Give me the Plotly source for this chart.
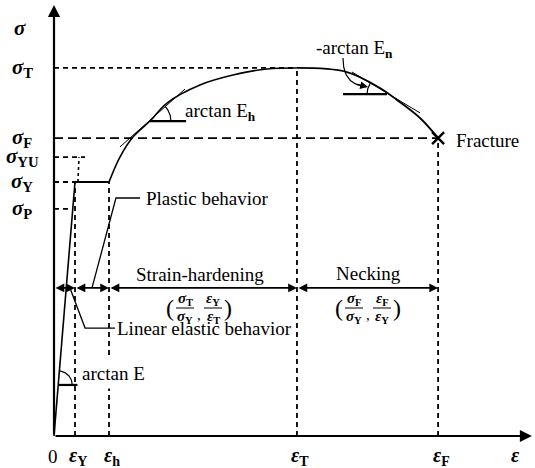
import math
import numpy as np
import plotly.graph_objects as go

# ---------------- data (stress / sigma_Y , strain / eps_Y) ----------------
strain_names = ["Y", "h", "T", "F"]
strain_values = [1.00, 2.62, 11.57, 18.29]
strain_guide_top = [1.000, 1.000, 1.449, 1.173]

stress_names = ["P", "Y", "YU", "F", "T"]
stress_values = [0.894, 1.000, 1.098, 1.173, 1.449]
stress_guide_end = [0.67, 1.00, 1.48, 18.29, 11.57]

elastic_eps = [0.0, 1.00]
elastic_sig = [0.0, 1.000]
upper_yield_eps = [1.14, 1.19]
upper_yield_sig = [1.000, 1.098]
plateau_eps = [1.00, 2.62]
plateau_sig = [1.000, 1.000]
hardening_eps = [2.62, 3.14, 3.76, 4.57, 5.38, 6.95, 8.52, 10.14, 11.57]
hardening_sig = [1.000, 1.098, 1.177, 1.240, 1.311, 1.382, 1.421, 1.445, 1.449]
necking_eps = [11.57, 13.95, 15.52, 16.33, 17.43, 18.29]
necking_sig = [1.449, 1.433, 1.370, 1.323, 1.252, 1.173]

tangent_h_eps = [3.14, 6.24]
tangent_h_sig = [1.138, 1.366]
tangent_h_point = [4.57, 1.240]
tangent_h_ref_end = 6.29
tangent_n_eps = [14.19, 17.43]
tangent_n_sig = [1.433, 1.272]
tangent_n_point = [15.86, 1.346]
tangent_n_ref_start = 13.76
elastic_ref_sig = 0.201
elastic_ref_end = 1.62

region_level = 0.583
region_bounds = [0.0, 1.00, 2.62, 11.57, 18.29]
linear_leader_eps = [0.76, 1.48, 2.90]
linear_leader_sig = [0.583, 0.425, 0.425]
plastic_leader_eps = [1.81, 2.95, 4.10]
plastic_leader_sig = [0.583, 0.937, 0.937]

axis_tip_eps = 22.76
axis_tip_sig = 1.697

# ---------------- layout constants ----------------
W, H = 535, 468
X0, KX = 54, 21.0     # pixel of origin, px per strain unit
Y0, KY = 436, 254.0   # pixel of origin, px per stress unit
FONT = "Liberation Serif, Times New Roman, serif"
TS = 19  # plain text size


def D(px, py):
    return (px - X0) / KX, (Y0 - py) / KY


fig = go.Figure()


def line(xs, ys, width=1.6, dash=None, shape="linear"):
    fig.add_trace(go.Scatter(x=list(xs), y=list(ys), mode="lines",
                             line=dict(color="black", width=width, dash=dash, shape=shape),
                             hoverinfo="skip", showlegend=False))


def text(x, y, s, size=TS, xanchor="center", yanchor="middle", bg=None, pad=0, xshift=0, yshift=0):
    fig.add_annotation(x=x, y=y, xref="x", yref="y", text=s, showarrow=False,
                       font=dict(family=FONT, size=size, color="black"),
                       xanchor=xanchor, yanchor=yanchor, xshift=xshift, yshift=yshift,
                       bgcolor=bg, borderpad=pad)


def arc(cx, cy, r, a0, a1, width=1.2):
    t = np.radians(np.linspace(a0, a1, 30))
    line(cx + r * np.cos(t) / KX, cy + r * np.sin(t) / KY, width=width)


def ang(p, q):
    return math.degrees(math.atan2((q[1] - p[1]) * KY, (q[0] - p[0]) * KX))


# dashed guides
for name, s, e in zip(stress_names, stress_values, stress_guide_end):
    line([0, e], [s, s], width=1.8, dash="9px,5px" if name == "F" else "5px,4px")
for v, top in zip(strain_values, strain_guide_top):
    line([v, v], [0, top], width=1.8, dash="5px,4px")

# curve
line(elastic_eps, elastic_sig, width=1.6)
line(upper_yield_eps, upper_yield_sig, width=1.6, dash="dot")
line(plateau_eps, plateau_sig, width=2.2)
line(hardening_eps, hardening_sig, width=1.6, shape="spline")
line(necking_eps, necking_sig, width=1.8, shape="spline")

# tangents and angle arcs
line(tangent_h_eps, tangent_h_sig, width=1.0)
line([tangent_h_point[0], tangent_h_ref_end], [tangent_h_point[1]] * 2, width=2.2)
arc(tangent_h_point[0], tangent_h_point[1], 21, 0,
    ang(tangent_h_point, [tangent_h_eps[1], tangent_h_sig[1]]))
line(tangent_n_eps, tangent_n_sig, width=1.0)
line([tangent_n_ref_start, tangent_n_point[0]], [tangent_n_point[1]] * 2, width=2.2)
arc(tangent_n_point[0], tangent_n_point[1], 20,
    ang(tangent_n_point, [tangent_n_eps[0], tangent_n_sig[0]]), 180)
e_start = elastic_ref_sig * elastic_eps[1] / elastic_sig[1]
line([e_start, elastic_ref_end], [elastic_ref_sig] * 2, width=2.2)
arc(e_start, elastic_ref_sig, 14, 0, ang([0, 0], [elastic_eps[1], elastic_sig[1]]))

# leaders
line(linear_leader_eps, linear_leader_sig, width=1.3)
line(plastic_leader_eps, plastic_leader_sig, width=1.3)

# curved arrow for -arctan En
t = np.linspace(0, 1, 30)
p0, p1, p2 = np.array([343, 58.0]), np.array([343, 84.0]), np.array([364, 86.0])
bez = ((1 - t)[:, None] ** 2) * p0 + (2 * (1 - t) * t)[:, None] * p1 + (t[:, None] ** 2) * p2
line((bez[:, 0] - X0) / KX, (Y0 - bez[:, 1]) / KY, width=1.2)
hx, hy = D(368, 87)
fig.add_annotation(x=hx, y=hy, xref="x", yref="y", ax=-13, ay=-3, text="", showarrow=True,
                   arrowhead=2, arrowsize=1.2, arrowwidth=1.3, arrowcolor="black")

# fracture mark
fig.add_trace(go.Scatter(x=[strain_values[3]], y=[stress_values[3]], mode="markers",
                         marker=dict(symbol="x-thin", size=12, line=dict(width=2.5, color="black")),
                         hoverinfo="skip", showlegend=False))

# axes
for tx, ty in [(0, axis_tip_sig), (axis_tip_eps, 0)]:
    fig.add_annotation(x=tx, y=ty, ax=0, ay=0, xref="x", yref="y", axref="x", ayref="y",
                       text="", showarrow=True, arrowhead=2, arrowsize=1.1, arrowwidth=2.2,
                       arrowcolor="black", standoff=0, startstandoff=0)

# region double arrows
for a, b in zip(region_bounds[:-1], region_bounds[1:]):
    fig.add_annotation(x=b, y=region_level, ax=a, ay=region_level, xref="x", yref="y",
                       axref="x", ayref="y", text="", showarrow=True, arrowhead=2,
                       arrowside="end+start", arrowsize=1.1, arrowwidth=1.6, arrowcolor="black",
                       standoff=0, startstandoff=0)

# labels
BI = lambda g, sub: f"<b><i>{g}</i></b><sub><b>{sub}</b></sub>"
text(*D(20, 28), "<b><i>σ</i></b>", size=21)
for name, s in zip(stress_names, stress_values):
    text(0, s, BI("σ", name), size=21, xshift=-32)
text(*D(53, 456), "0", size=TS)
for name, v in zip(strain_names, strain_values):
    text(v, 0, BI("ε", name), size=20, yshift=-20, xshift=3)
text(*D(515, 455), "<b><i>ε</i></b>", size=20)

text(*D(200, 274), "Strain-hardening")
text(*D(368, 273), "Necking")
text(*D(116, 328), "Linear elastic behavior", xanchor="left")
text(*D(145, 198), "Plastic behavior", xanchor="left")
text(*D(77, 373), "arctan E", xanchor="left", bg="white", pad=4)
text(*D(184, 112), "arctan E<sub><b>h</b></sub>", xanchor="left")
text(*D(315, 49), "-arctan E<sub><b>n</b></sub>", xanchor="left")
text(*D(455, 140), "Fracture", xanchor="left")


def frac_block(c_px, nums, dens):
    offs = [-14, 14]
    text(*D(c_px - 29, 308), "(", size=24)
    text(*D(c_px + 29, 308), ")", size=24)
    text(*D(c_px, 315), ",", size=15)
    for o, n, d in zip(offs, nums, dens):
        cx = c_px + o
        text(*D(cx, 299), n, size=15)
        text(*D(cx, 317), d, size=15)
        x0, y0 = D(cx - 9, 308)
        x1, _ = D(cx + 9, 308)
        line([x0, x1], [y0, y0], width=1.0)


frac_block(199, [BI("σ", "T"), BI("ε", "Y")], [BI("σ", "Y"), BI("ε", "T")])
frac_block(368, [BI("σ", "F"), BI("ε", "F")], [BI("σ", "Y"), BI("ε", "Y")])

fig.update_layout(
    width=W, height=H, margin=dict(l=0, r=0, t=0, b=0),
    paper_bgcolor="white", plot_bgcolor="white", showlegend=False,
    xaxis=dict(range=[-X0 / KX, (W - X0) / KX], visible=False, fixedrange=True),
    yaxis=dict(range=[-(H - Y0) / KY, Y0 / KY], visible=False, fixedrange=True),
)
fig.write_html("out.html", config={"displayModeBar": False},
               post_script="document.body.style.margin='0px';document.body.style.padding='0px';")
